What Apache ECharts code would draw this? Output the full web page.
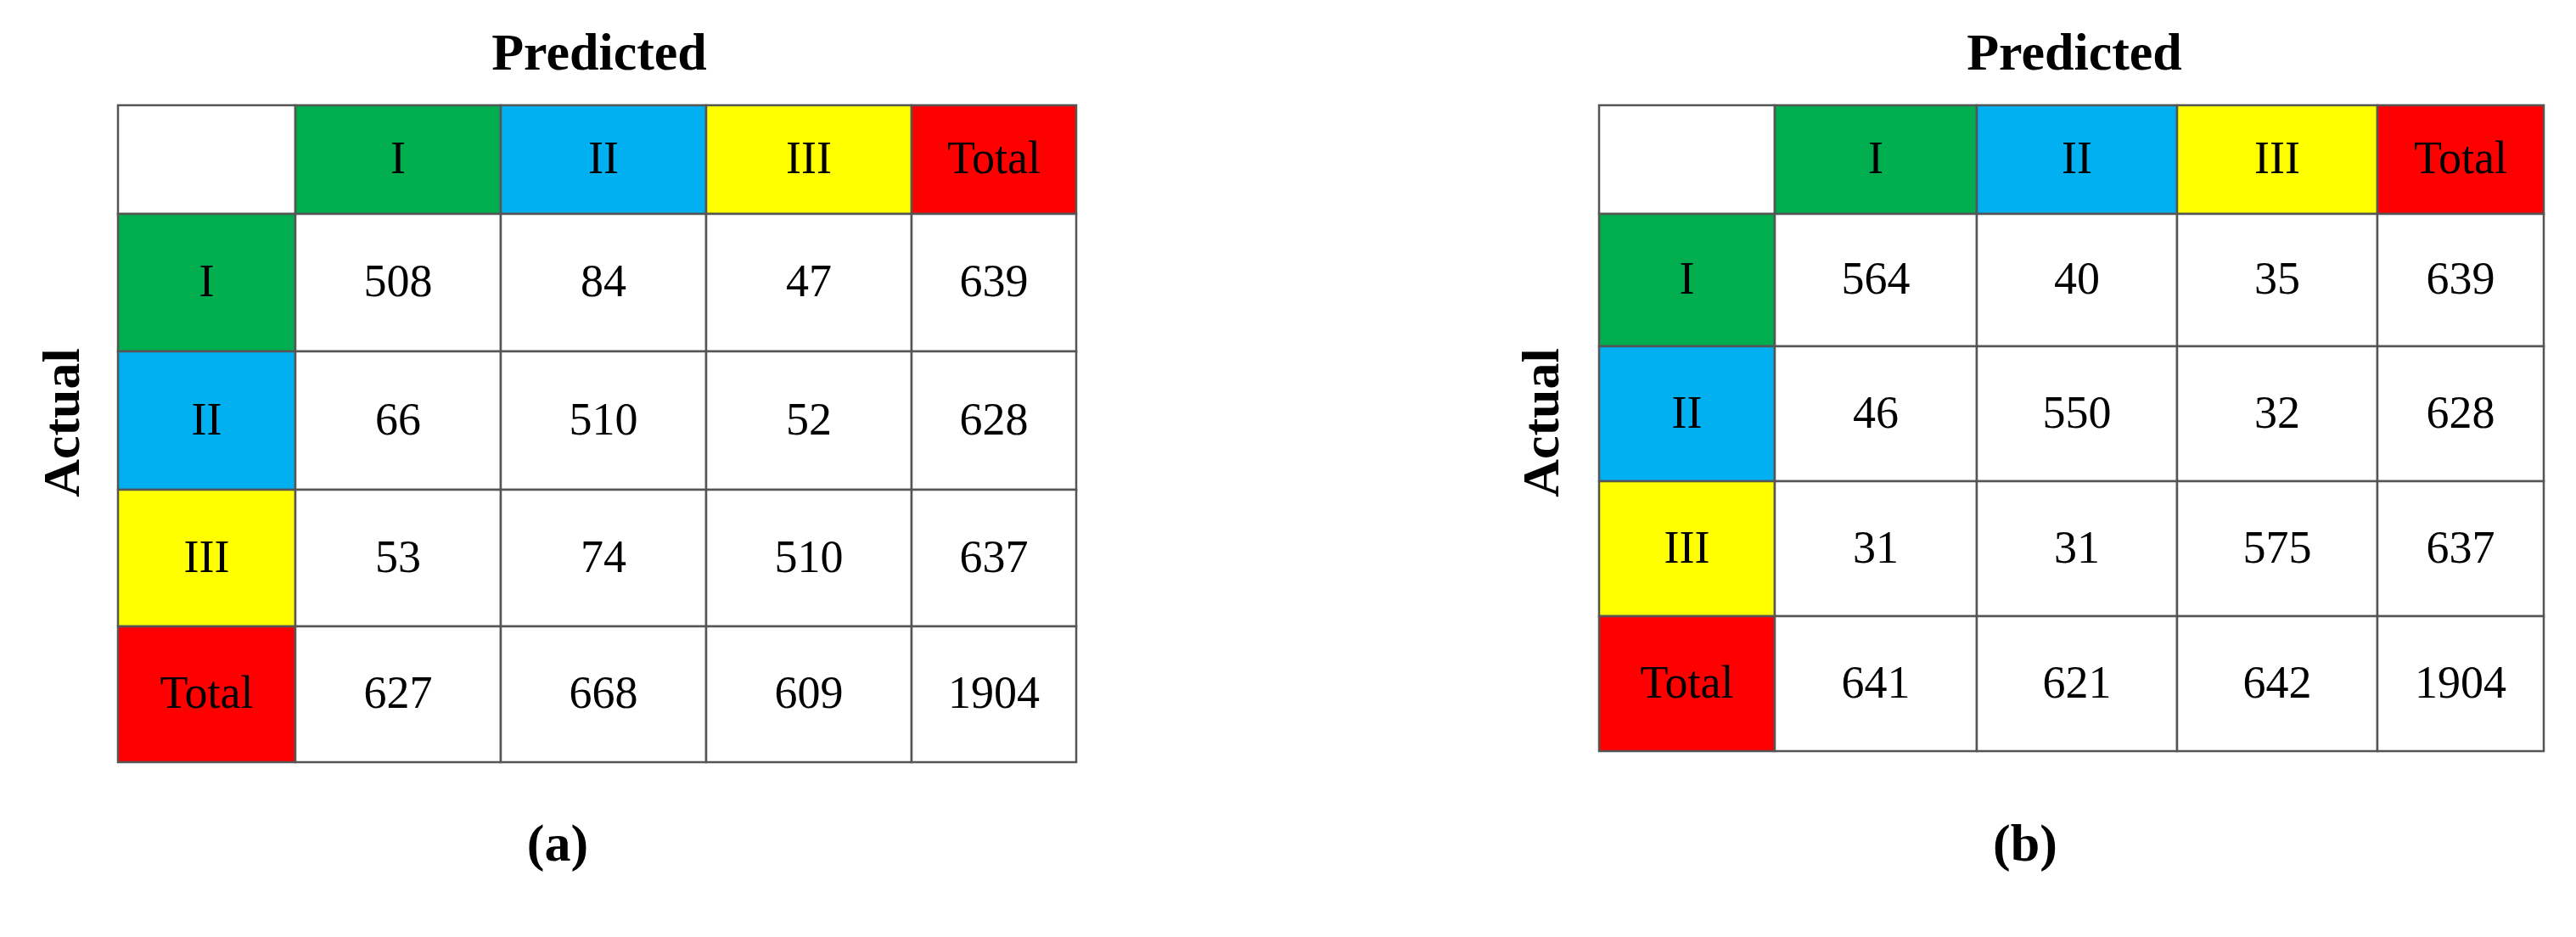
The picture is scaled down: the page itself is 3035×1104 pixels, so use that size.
<!DOCTYPE html>
<html>
<head>
<meta charset="utf-8">
<script src="https://cdn.jsdelivr.net/npm/echarts@6/dist/echarts.min.js"></script>
<style>html,body{margin:0;background:#fff}#main{width:3035px;height:1104px}</style>
</head>
<body>
<div id="main"></div>
<script>
var classNames = ['I', 'II', 'III', 'Total']
var matrixA = [[508, 84, 47, 639], [66, 510, 52, 628], [53, 74, 510, 637], [627, 668, 609, 1904]]
var matrixB = [[564, 40, 35, 639], [46, 550, 32, 628], [31, 31, 575, 637], [641, 621, 642, 1904]]
var panelLabels = ['(a)', '(b)']

var classColors = ['#00ad4f', '#00b0f0', '#ffff00', '#ff0000']
var FONT = 'Liberation Serif'

// column / row relative sizes (layout only)
var layouts = [
  { left: 139, top: 124, colW: [209, 242, 242, 242, 194], rowH: [128, 162, 163, 161, 160] },
  { left: 1884, top: 124, colW: [207, 238, 236, 236, 196], rowH: [128, 156, 159, 159, 159] }
]

function cum(arr) {
  var out = [0]
  arr.forEach(function (v) { out.push(out[out.length - 1] + v) })
  return out
}

function buildCells(matrix) {
  var cells = []
  for (var r = 0; r < 5; r++) {
    for (var c = 0; c < 5; c++) {
      var text = '', color = '#fff'
      if (r === 0 && c > 0) { text = classNames[c - 1]; color = classColors[c - 1] }
      else if (c === 0 && r > 0) { text = classNames[r - 1]; color = classColors[r - 1] }
      else if (r > 0 && c > 0) { text = String(matrix[r - 1][c - 1]) }
      cells.push([c, r, text, color])
    }
  }
  return cells
}

var chart = echarts.init(document.getElementById('main'))
var grids = [], xAxes = [], yAxes = [], series = [], titles = []
;[matrixA, matrixB].forEach(function (m, i) {
  var L = layouts[i]
  var xs = cum(L.colW), ys = cum(L.rowH)
  var w = xs[5], h = ys[5]
  grids.push({ left: L.left, top: L.top, width: w, height: h })
  xAxes.push({ gridIndex: i, type: 'value', min: 0, max: w, show: false })
  yAxes.push({ gridIndex: i, type: 'value', min: 0, max: h, inverse: true, show: false })
  series.push({
    type: 'custom',
    xAxisIndex: i,
    yAxisIndex: i,
    data: buildCells(m),
    renderItem: function (params, api) {
      var c = api.value(0), r = api.value(1)
      var p0 = api.coord([xs[c], ys[r]])
      var p1 = api.coord([xs[c + 1], ys[r + 1]])
      var d = m && params.dataIndex
      var item = series[i].data[params.dataIndex]
      return {
        type: 'group',
        children: [
          {
            type: 'rect',
            shape: { x: p0[0], y: p0[1], width: p1[0] - p0[0], height: p1[1] - p0[1] },
            style: { fill: item[3], stroke: '#555', lineWidth: 2.5 }
          },
          {
            type: 'text',
            style: {
              x: (p0[0] + p1[0]) / 2, y: (p0[1] + p1[1]) / 2 + 2,
              text: item[2], fill: '#000', font: '54px "' + FONT + '"',
              align: 'center', verticalAlign: 'middle'
            }
          }
        ]
      }
    }
  })
  var cx = L.left + w / 2
  titles.push({ text: 'Predicted', left: cx + (i === 0 ? 0 : 0), top: 30, textAlign: 'center',
    textStyle: { fontFamily: FONT, fontWeight: 'bold', fontSize: 62, color: '#000' } })
  titles.push({ text: panelLabels[i], left: L.left + w / 2 - 30, top: 962, textAlign: 'center',
    textStyle: { fontFamily: FONT, fontSize: 62, color: '#000',
      rich: {} } })
})
// adjust Predicted centers to the reference
titles[0].left = 701
titles[2].left = 2439
titles[1].left = 652
titles[3].left = 2381

chart.setOption({
  backgroundColor: '#fff',
  animation: false,
  title: titles,
  grid: grids,
  xAxis: xAxes,
  yAxis: yAxes,
  series: series,
  graphic: [
    { type: 'text', x: 77, y: 498, rotation: Math.PI / 2, style: { text: 'Actual', font: 'bold 62px "' + FONT + '"', fill: '#000', align: 'center', verticalAlign: 'middle' } },
    { type: 'text', x: 1820, y: 498, rotation: Math.PI / 2, style: { text: 'Actual', font: 'bold 62px "' + FONT + '"', fill: '#000', align: 'center', verticalAlign: 'middle' } }
  ]
})
</script>
</body>
</html>
